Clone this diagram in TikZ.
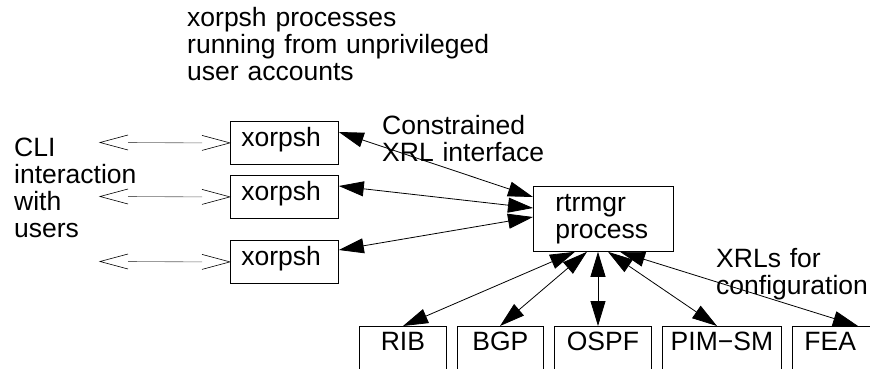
\documentclass[tikz,border=0pt]{standalone}
\usepackage{fontspec}
\setmainfont{Liberation Sans}
\usetikzlibrary{arrows.meta}
\begin{document}
\begin{tikzpicture}[x=1pt,y=-1pt,
  every node/.style={font=\fontsize{26.5}{27}\selectfont, inner sep=0pt},
  box/.style={draw, line width=0.8pt, anchor=north west, align=left},
  xbox/.style={box, minimum height=43pt, inner xsep=11pt, text width=86pt, text height=18pt, text depth=11pt},
  bbox/.style={box, minimum height=80pt, text height=18pt, text depth=50pt, align=center},
  lbl/.style={anchor=base west, align=left, text width=#1},
  dbl/.style={line width=0.8pt, {Triangle[length=25pt,width=15pt]}-{Triangle[length=25pt,width=15pt]}},
  cli/.style={line width=0.6pt, black!60},
  barb/.style={line width=0.6pt, black},
]
\useasboundingbox[fill=white] (0,0) rectangle (870,369);

% text labels
\node[lbl=400pt] (t1) at (187,27) {xorpsh processes\\running from unprivileged\\user accounts};
\node[lbl=200pt] (t2) at (14,156) {CLI\\interaction\\with\\users};
\node[lbl=250pt] (t3) at (382,134) {Constrained\\XRL interface};
\node[lbl=200pt] (t4) at (716,267) {XRLs for\\configuration};

% boxes
\node[xbox] (x1) at (230,121) {xorpsh};
\node[xbox] (x2) at (230,175) {xorpsh};
\node[xbox] (x3) at (230,240) {xorpsh};
\node[box, minimum height=65pt, inner xsep=22pt, text width=96pt, text height=18pt, text depth=32pt] (r) at (533,186) {rtrmgr\\process};

\node[bbox, minimum width=87pt] (rib) at (359,326) {RIB};
\node[bbox, minimum width=86pt] (bgp) at (457,326) {BGP};
\node[bbox, minimum width=97pt] (ospf) at (554,326) {OSPF};
\node[bbox, minimum width=119pt] (pim) at (662,326) {PIM−SM};
\node[bbox, align=left, inner xsep=12pt, text width=76pt] (fea) at (792,326) {FEA};

% XRL connectors
\draw[dbl] ([yshift=-11pt]x1.north east) -- ([yshift=-11pt]r.north west);
\draw[dbl] ([yshift=-11pt]x2.north east) -- ([yshift=-22pt]r.north west);
\draw[dbl] ([yshift=-10pt]x3.north east) -- ([yshift=-31pt]r.north west);
\draw[dbl] ([xshift=42pt]r.south west) -- ([xshift=44pt]rib.north west);
\draw[dbl] ([xshift=54pt]r.south west) -- ([xshift=43pt]bgp.north west);
\draw[dbl] ([xshift=65pt]r.south west) -- ([xshift=44pt]ospf.north west);
\draw[dbl] ([xshift=75pt]r.south west) -- ([xshift=55pt]pim.north west);
\draw[dbl] ([xshift=87pt]r.south west) -- ([xshift=66pt]fea.north west);

% CLI connectors
\foreach \i/\y in {1/142.5, 2/196.5, 3/261.5} {
  \coordinate (c\i) at (100,\y);
  \draw[cli] ([xshift=28pt]c\i) -- ([xshift=-28pt]x\i.west);
  \draw[barb] ([shift={(28pt,7.5pt)}]c\i) -- (c\i) -- ([shift={(28pt,-7.5pt)}]c\i);
  \draw[barb] ([shift={(-28pt,7.5pt)}]x\i.west) -- (x\i.west) -- ([shift={(-28pt,-7.5pt)}]x\i.west);
}
\end{tikzpicture}
\end{document}
